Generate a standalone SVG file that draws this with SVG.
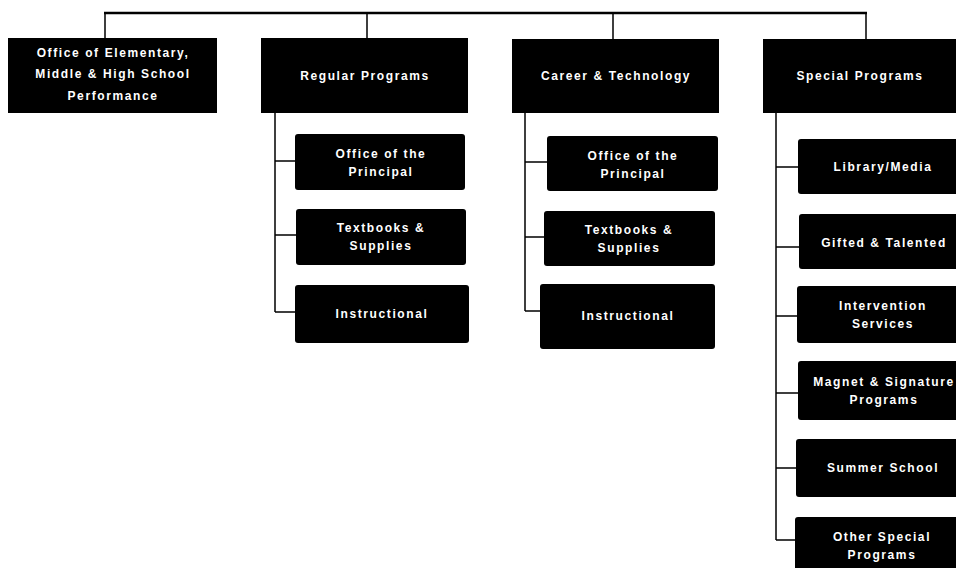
<svg xmlns="http://www.w3.org/2000/svg" width="956" height="568" viewBox="0 0 956 568">
<style>
.top{fill:#000}
.box{fill:#000}
.t{font-family:"Liberation Sans",Arial,sans-serif;font-weight:bold;font-size:12px;fill:#fff;text-anchor:middle;letter-spacing:1.6px;dominant-baseline:central}
.c{stroke:#000;fill:none;stroke-width:1.5}
.main{stroke:#000;fill:none;stroke-width:2.5}
</style>
<rect width="956" height="568" fill="#fff"/>
<g id="connectors">
<path class="main" d="M104 13H867"/>
<path class="c" d="M105 13V38M367 13V38M613 13V39M866 13V39"/>
<path class="c" d="M275 113V312M275 161H295M275 235H296M275 312H295"/>
<path class="c" d="M525 113V311M525 162H547M525 237H544M525 311H540"/>
<path class="c" d="M776 113V540M776 167H798M776 247H799M776 316H797M776 393H798M776 468H796M776 540H795"/>
</g>
<g id="n-office">
<rect class="top" x="8" y="38" width="209" height="75"/>
<text class="t" x="113" y="53">Office of Elementary,</text>
<text class="t" x="113" y="74">Middle &amp; High School</text>
<text class="t" x="113" y="96">Performance</text>
</g>
<g id="n-regular">
<rect class="top" x="261" y="38" width="207" height="75"/>
<text class="t" x="365" y="76">Regular Programs</text>
</g>
<g id="n-career">
<rect class="top" x="512" y="39" width="207" height="74"/>
<text class="t" x="616" y="76">Career &amp; Technology</text>
</g>
<g id="n-special">
<rect class="top" x="763" y="39" width="200" height="74"/>
<text class="t" x="860" y="76">Special Programs</text>
</g>
<g id="n-reg-principal">
<rect class="box" x="295" y="134" width="170" height="56" rx="3"/>
<text class="t" x="381" y="154">Office of the</text>
<text class="t" x="381" y="172">Principal</text>
</g>
<g id="n-reg-textbooks">
<rect class="box" x="296" y="209" width="170" height="56" rx="3"/>
<text class="t" x="381" y="228">Textbooks &amp;</text>
<text class="t" x="381" y="246">Supplies</text>
</g>
<g id="n-reg-instructional">
<rect class="box" x="295" y="285" width="174" height="58" rx="3"/>
<text class="t" x="382" y="314">Instructional</text>
</g>
<g id="n-car-principal">
<rect class="box" x="547" y="136" width="171" height="55" rx="3"/>
<text class="t" x="633" y="156">Office of the</text>
<text class="t" x="633" y="174">Principal</text>
</g>
<g id="n-car-textbooks">
<rect class="box" x="544" y="211" width="171" height="55" rx="3"/>
<text class="t" x="629" y="230">Textbooks &amp;</text>
<text class="t" x="629" y="248">Supplies</text>
</g>
<g id="n-car-instructional">
<rect class="box" x="540" y="284" width="175" height="65" rx="3"/>
<text class="t" x="628" y="316">Instructional</text>
</g>
<g id="n-library">
<rect class="box" x="798" y="139" width="170" height="55" rx="3"/>
<text class="t" x="883" y="167">Library/Media</text>
</g>
<g id="n-gifted">
<rect class="box" x="799" y="214" width="170" height="55" rx="3"/>
<text class="t" x="884" y="243">Gifted &amp; Talented</text>
</g>
<g id="n-intervention">
<rect class="box" x="797" y="286" width="170" height="57" rx="3"/>
<text class="t" x="883" y="306">Intervention</text>
<text class="t" x="883" y="324">Services</text>
</g>
<g id="n-magnet">
<rect class="box" x="798" y="361" width="170" height="59" rx="3"/>
<text class="t" x="884" y="382">Magnet &amp; Signature</text>
<text class="t" x="884" y="400">Programs</text>
</g>
<g id="n-summer">
<rect class="box" x="796" y="439" width="170" height="58" rx="3"/>
<text class="t" x="883" y="468">Summer School</text>
</g>
<g id="n-other">
<rect class="box" x="795" y="517" width="170" height="60" rx="3"/>
<text class="t" x="882" y="537">Other Special</text>
<text class="t" x="882" y="555">Programs</text>
</g>
</svg>
